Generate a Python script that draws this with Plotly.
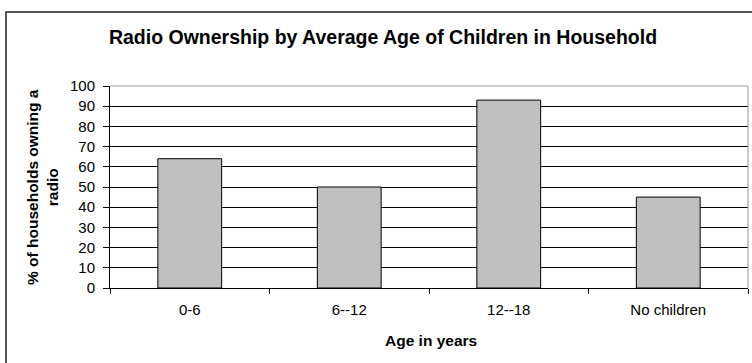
import plotly.graph_objects as go

categories = ["0-6", "6--12", "12--18", "No children"]
values = [64, 50, 93, 45]
y_ticks = [0, 10, 20, 30, 40, 50, 60, 70, 80, 90, 100]

W, H = 752, 363
L, R, T, B = 110, 4, 86, 75
pw = W - L - R
ph = H - T - B

def px2x(px):
    return (px - L) / pw

def py2y(py):
    return (H - B - py) / ph

FONT = "Liberation Sans, Arial, sans-serif"

fig = go.Figure()
fig.add_trace(go.Bar(
    x=categories, y=values,
    marker=dict(color="#c0c0c0", line=dict(color="black", width=1)),
    width=0.4,
))

fig.update_layout(
    width=W, height=H,
    margin=dict(l=L, r=R, t=T, b=B),
    paper_bgcolor="white", plot_bgcolor="white",
    showlegend=False,
    font=dict(family=FONT, size=15, color="black"),
    title=dict(
        text="<b>Radio Ownership by Average Age of Children in Household</b>",
        font=dict(family=FONT, size=19.5, color="black"),
        xref="container", x=383 / W, xanchor="center",
        yref="container", y=1 - 37 / H, yanchor="middle",
    ),
    xaxis=dict(
        type="category",
        showgrid=False,
        showline=True, linecolor="black", linewidth=1,
        ticks="outside", tickson="boundaries", ticklen=5, tickcolor="black",
        tickfont=dict(family=FONT, size=15, color="black"),
        ticklabelstandoff=8,
        mirror=False,
    ),
    yaxis=dict(
        range=[0, 100],
        tickvals=y_ticks,
        showgrid=True, gridcolor="black", gridwidth=1,
        showline=True, linecolor="black", linewidth=1,
        ticks="outside", ticklen=6, tickcolor="black",
        tickfont=dict(family=FONT, size=15, color="black"),
        ticklabelstandoff=5,
        zeroline=False,
    ),
)

# grey plot-area border on top and right
fig.add_shape(type="line", xref="paper", yref="paper", x0=0, x1=1, y0=1, y1=1,
              line=dict(color="#999999", width=1))
fig.add_shape(type="line", xref="paper", yref="paper", x0=1, x1=1, y0=0, y1=1,
              line=dict(color="#999999", width=1))

# outer chart border
fig.add_shape(type="rect", xref="paper", yref="paper",
              x0=px2x(6), x1=px2x(800), y0=py2y(12), y1=py2y(420),
              line=dict(color="#222222", width=1.5), fillcolor="rgba(0,0,0,0)",
              layer="above")

fig.add_annotation(
    text="<b>% of households owning a<br>radio</b>",
    xref="paper", yref="paper", x=px2x(42), y=py2y(187),
    textangle=-90, showarrow=False, xanchor="center", yanchor="middle",
    font=dict(family=FONT, size=15.5, color="black"),
)
fig.add_annotation(
    text="<b>Age in years</b>",
    xref="paper", yref="paper", x=px2x(430.5), y=py2y(340),
    showarrow=False, xanchor="center", yanchor="middle",
    font=dict(family=FONT, size=15.5, color="black"),
)

fig.write_html("out.html")
